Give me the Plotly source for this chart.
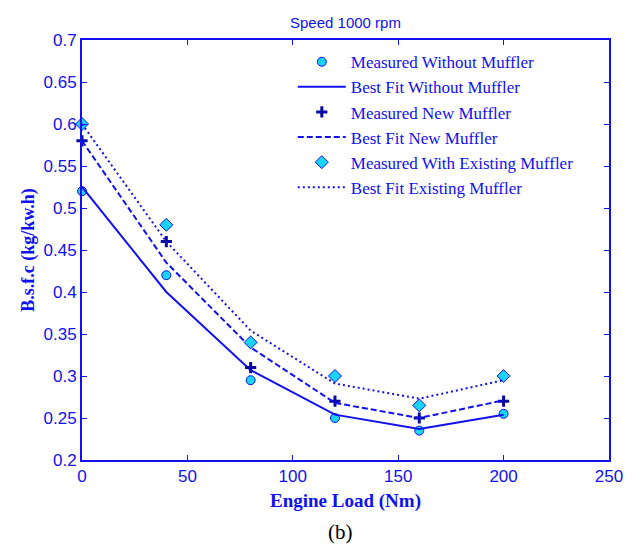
import plotly.graph_objects as go

load = [0, 40, 80, 120, 160, 200]

meas_without = [0.52, 0.42, 0.295, 0.25, 0.235, 0.255]
fit_without = [0.525, 0.40, 0.307, 0.254, 0.237, 0.254]

meas_new = [0.58, 0.46, 0.31, 0.27, 0.25, 0.27]
fit_new = [0.58, 0.435, 0.334, 0.268, 0.25, 0.271]

meas_exist = [0.60, 0.48, 0.34, 0.30, 0.265, 0.30]
fit_exist = [0.60, 0.46, 0.354, 0.291, 0.273, 0.295]

xticks = [0, 50, 100, 150, 200, 250]
yticks = [0.2, 0.25, 0.3, 0.35, 0.4, 0.45, 0.5, 0.55, 0.6, 0.65, 0.7]

BLUE = "#1010f0"
CYAN = "#19d4ff"
serif = "Liberation Serif, Times New Roman, serif"
sans = "Liberation Sans, Arial, sans-serif"

fig = go.Figure()
fig.add_trace(go.Scatter(x=load, y=meas_without, mode="markers", name="Measured Without Muffler", cliponaxis=False,
                         marker=dict(symbol="circle", size=9, color=CYAN, line=dict(color=BLUE, width=1))))
fig.add_trace(go.Scatter(x=load, y=fit_without, mode="lines", name="Best Fit Without Muffler", cliponaxis=False,
                         line=dict(color=BLUE, width=2, dash="solid")))
fig.add_trace(go.Scatter(x=load, y=meas_new, mode="markers", name="Measured New Muffler", cliponaxis=False,
                         marker=dict(symbol="cross-thin", size=8, color="#0a0aa0", line=dict(color="#0a0aa0", width=3))))
fig.add_trace(go.Scatter(x=load, y=fit_new, mode="lines", name="Best Fit New Muffler", cliponaxis=False,
                         line=dict(color=BLUE, width=2, dash="6px,3px")))
fig.add_trace(go.Scatter(x=load, y=meas_exist, mode="markers", name="Measured With Existing Muffler", cliponaxis=False,
                         marker=dict(symbol="diamond", size=10, color=CYAN, line=dict(color=BLUE, width=1))))
fig.add_trace(go.Scatter(x=load, y=fit_exist, mode="lines", name="Best Fit Existing Muffler", cliponaxis=False,
                         line=dict(color=BLUE, width=2, dash="2px,3px")))

axis_common = dict(showgrid=False, zeroline=False, showline=True, linecolor=BLUE, linewidth=2,
                   mirror="ticks", ticks="inside", ticklen=5, tickcolor=BLUE, tickwidth=1,
                   tickfont=dict(family=sans, size=17, color=BLUE))

fig.update_xaxes(range=[0, 250], tickvals=xticks, ticktext=[str(v) for v in xticks],
                 title=dict(text="<b>Engine Load (Nm)</b>", font=dict(family=serif, size=19, color=BLUE), standoff=8),
                 **axis_common)
fig.update_yaxes(range=[0.2, 0.7], tickvals=yticks, ticktext=[f"{v:g}" for v in yticks],
                 title=dict(text="<b>B.s.f.c (kg/kw.h)</b>", font=dict(family=serif, size=18, color=BLUE), standoff=4),
                 **axis_common)

fig.update_layout(
    width=636, height=546,
    margin=dict(l=82, r=27, t=40, b=86),
    paper_bgcolor="white", plot_bgcolor="white",
    showlegend=True,
    legend=dict(x=0.40, y=0.99, xanchor="left", yanchor="top", bgcolor="rgba(0,0,0,0)",
                font=dict(family=serif, size=17, color=BLUE), tracegroupgap=0, itemwidth=48),
    annotations=[
        dict(text="Speed 1000 rpm", x=0.5, y=1.0, xref="paper", yref="paper", yanchor="middle",
             yshift=18, showarrow=False, font=dict(family=sans, size=15, color=BLUE)),
        dict(text="(b)", x=0.5, y=0, xref="paper", yref="paper", yanchor="middle", yshift=-72, xshift=-5,
             showarrow=False, font=dict(family=serif, size=21, color="black")),
    ],
)

fig.write_html("out.html")
